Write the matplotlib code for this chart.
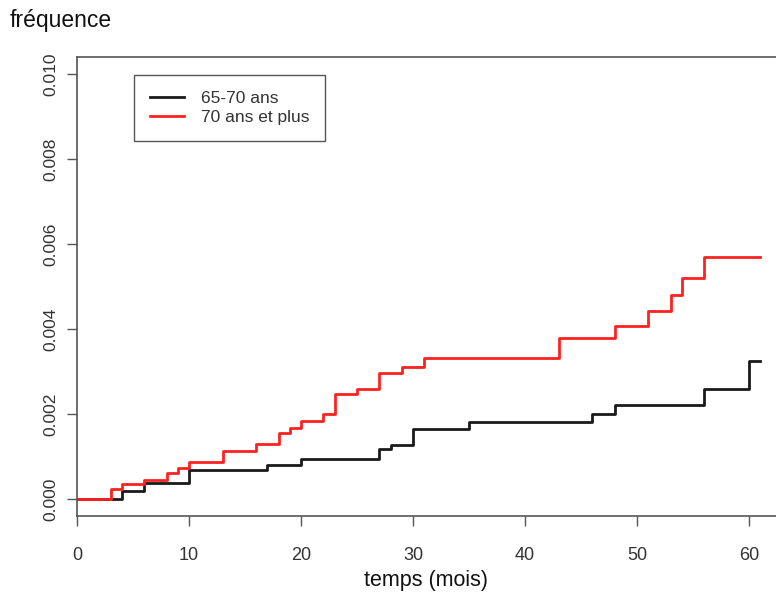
import matplotlib
matplotlib.use("Agg")
import matplotlib.pyplot as plt

plt.rcParams['font.family'] = ['Liberation Sans', 'DejaVu Sans']

# temps (mois) des sauts et fréquence cumulée après chaque saut
t_65_70 = [0, 4, 6, 10, 17, 20, 27, 28, 30, 35, 46, 48, 56, 60, 61]
f_65_70 = [0.0, 0.00019, 0.00038, 0.00069, 0.00080, 0.00095, 0.00118, 0.00128,
           0.00165, 0.00182, 0.00201, 0.00222, 0.00260, 0.00324, 0.00324]

t_70_plus = [0, 3, 4, 6, 8, 9, 10, 13, 16, 18, 19, 20, 22, 23, 25, 27, 29, 31,
             43, 48, 51, 53, 54, 56, 61]
f_70_plus = [0.0, 0.00024, 0.00035, 0.00045, 0.00061, 0.00073, 0.00087, 0.00113,
             0.00130, 0.00156, 0.00168, 0.00184, 0.00201, 0.00246, 0.00260,
             0.00296, 0.00310, 0.00331, 0.00378, 0.00407, 0.00442, 0.00480,
             0.00520, 0.00570, 0.00570]

x_ticks = [0, 10, 20, 30, 40, 50, 60]
y_ticks = [0.000, 0.002, 0.004, 0.006, 0.008, 0.010]

fig = plt.figure(figsize=(7.76, 5.94), dpi=100)
ax = fig.add_axes([77 / 776, 78 / 594, 1 - 77 / 776, (516 - 57) / 594])

ax.step(t_65_70, f_65_70, where='post', color='#1a1a1a', lw=2.0, label='65-70 ans')
ax.step(t_70_plus, f_70_plus, where='post', color='#ff2020', lw=2.0, label='70 ans et plus')

ax.set_xlim(0, (776 - 77) / 11.2)
ax.set_ylim(-0.0004, 0.0104)
ax.set_xticks(x_ticks)
ax.set_yticks(y_ticks)
ax.set_yticklabels(['%.3f' % v for v in y_ticks], rotation=90, va='center')

for side in ['left', 'bottom', 'top']:
    ax.spines[side].set_color('#555555')
    ax.spines[side].set_linewidth(1.2)
ax.spines['right'].set_visible(False)
ax.tick_params(direction='out', length=7.5, width=1.0, color='#555555',
               labelcolor='#333333')
ax.tick_params(axis='x', labelsize=13, pad=15)
ax.tick_params(axis='y', labelsize=12.5, pad=6)

ax.set_xlabel('temps (mois)', fontsize=15.5, color='#111111', labelpad=4)
fig.text(10 / 776, 1 - 20 / 594, 'fréquence', fontsize=16.5, color='#111111',
         va='center', ha='left')

leg = ax.legend(loc='upper left', bbox_to_anchor=(134 / 776, 1 - 75 / 594),
                bbox_transform=fig.transFigure, borderaxespad=0, fontsize=12.5,
                handlelength=2.0, handletextpad=0.95, labelspacing=0.25,
                borderpad=0.9, fancybox=False, framealpha=1)
leg.get_frame().set_edgecolor('#555555')
leg.get_frame().set_linewidth(1.0)
for txt in leg.get_texts():
    txt.set_color('#333333')

fig.savefig('out.png', dpi=100)
